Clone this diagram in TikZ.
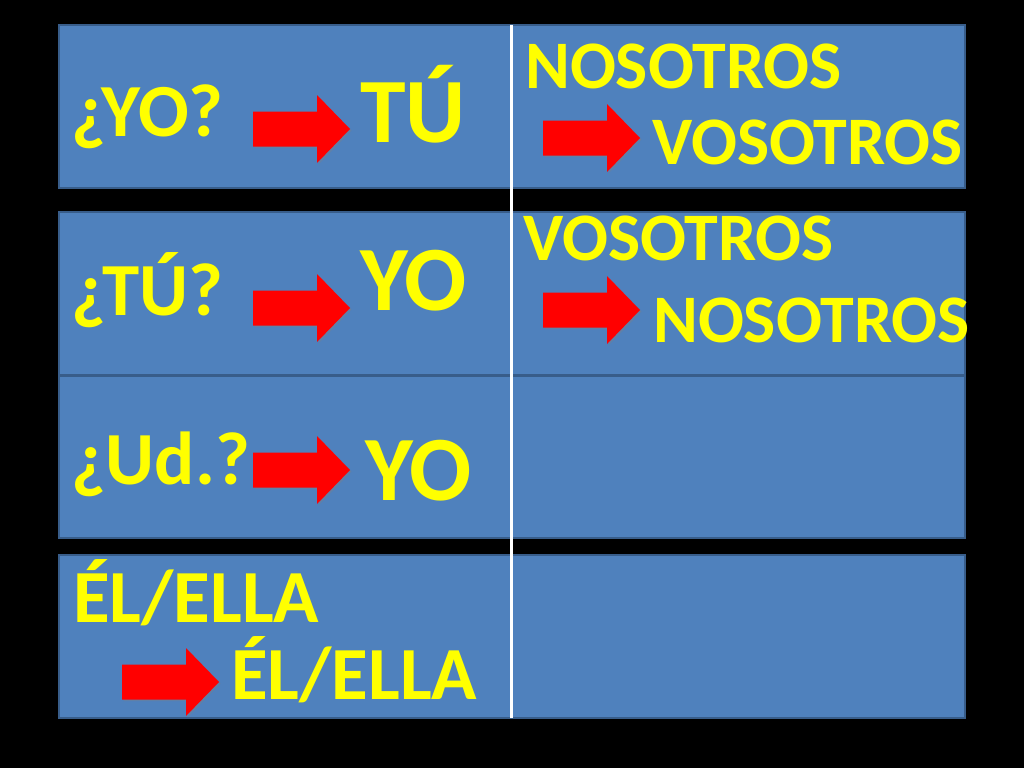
\documentclass[tikz,border=0pt]{standalone}
\usepackage{fontspec}
\setmainfont{Carlito}
\usetikzlibrary{shadows}
\definecolor{slideBlue}{RGB}{79,129,189}
\definecolor{slideEdge}{RGB}{56,93,138}
\definecolor{slideYellow}{RGB}{255,255,0}
\definecolor{slideRed}{RGB}{255,0,0}

\tikzset{
  row/.style={fill=slideBlue, draw=slideEdge, line width=2pt},
  word/.style={inner sep=0pt, anchor=base west, text=slideYellow,
    font=\fontsize{68}{68}\selectfont\bfseries},
  askword/.style={word, font=\fontsize{75}{75}\selectfont\bfseries},
  bigword/.style={word, font=\fontsize{92}{92}\selectfont\bfseries},
  pics/redarrow/.style={code={
    \fill[slideRed, drop shadow={opacity=0.35, shadow xshift=1.5pt, shadow yshift=-1.5pt}]
      (0,-17.5) -- (64,-17.5) -- (64,-34) -- (97,0) -- (64,34) -- (64,17.5) -- (0,17.5) -- cycle;
  }}
}

\begin{document}
\begin{tikzpicture}[x=1pt, y=-1pt]

  % black slide
  \fill[black] (0,0) rectangle (1024,768);
  \useasboundingbox (0,0) rectangle (1024,768);

  % the four rows
  \draw[row] (59,25) rectangle (965,188);
  \draw[row] (59,212) rectangle (965,375);
  \draw[row] (59,376) rectangle (965,538);
  \draw[row] (59,555) rectangle (965,718);

  % white divider
  \draw[white, line width=3pt] (511.5,25) -- (511.5,718);

  % row 1
  \node[askword] (yoQ) at (71,136) {¿YO?};
  \pic at (253,129) {redarrow};
  \node[bigword] (tu) at (360,142) {TÚ};
  \node[word] (nos1) at (525,88) {NOSOTROS};
  \pic at (543,138) {redarrow};
  \node[word] (vos1) at (652,164) {VOSOTROS};

  % row 2
  \node[askword] (tuQ) at (71,315) {¿TÚ?};
  \pic at (253,308) {redarrow};
  \node[bigword] (yo1) at (360,310) {YO};
  \node[word] (vos2) at (523,260) {VOSOTROS};
  \pic at (543,310) {redarrow};
  \node[word] (nos2) at (653,342) {NOSOTROS};

  % row 3
  \node[askword] (udQ) at (71,484) {¿Ud.?};
  \pic at (253,470) {redarrow};
  \node[bigword] (yo2) at (365,500) {YO};

  % row 4
  \node[askword] (el1) at (73,622) {ÉL/ELLA};
  \pic at (122,682) {redarrow};
  \node[askword] (el2) at (231,699) {ÉL/ELLA};

\end{tikzpicture}
\end{document}
